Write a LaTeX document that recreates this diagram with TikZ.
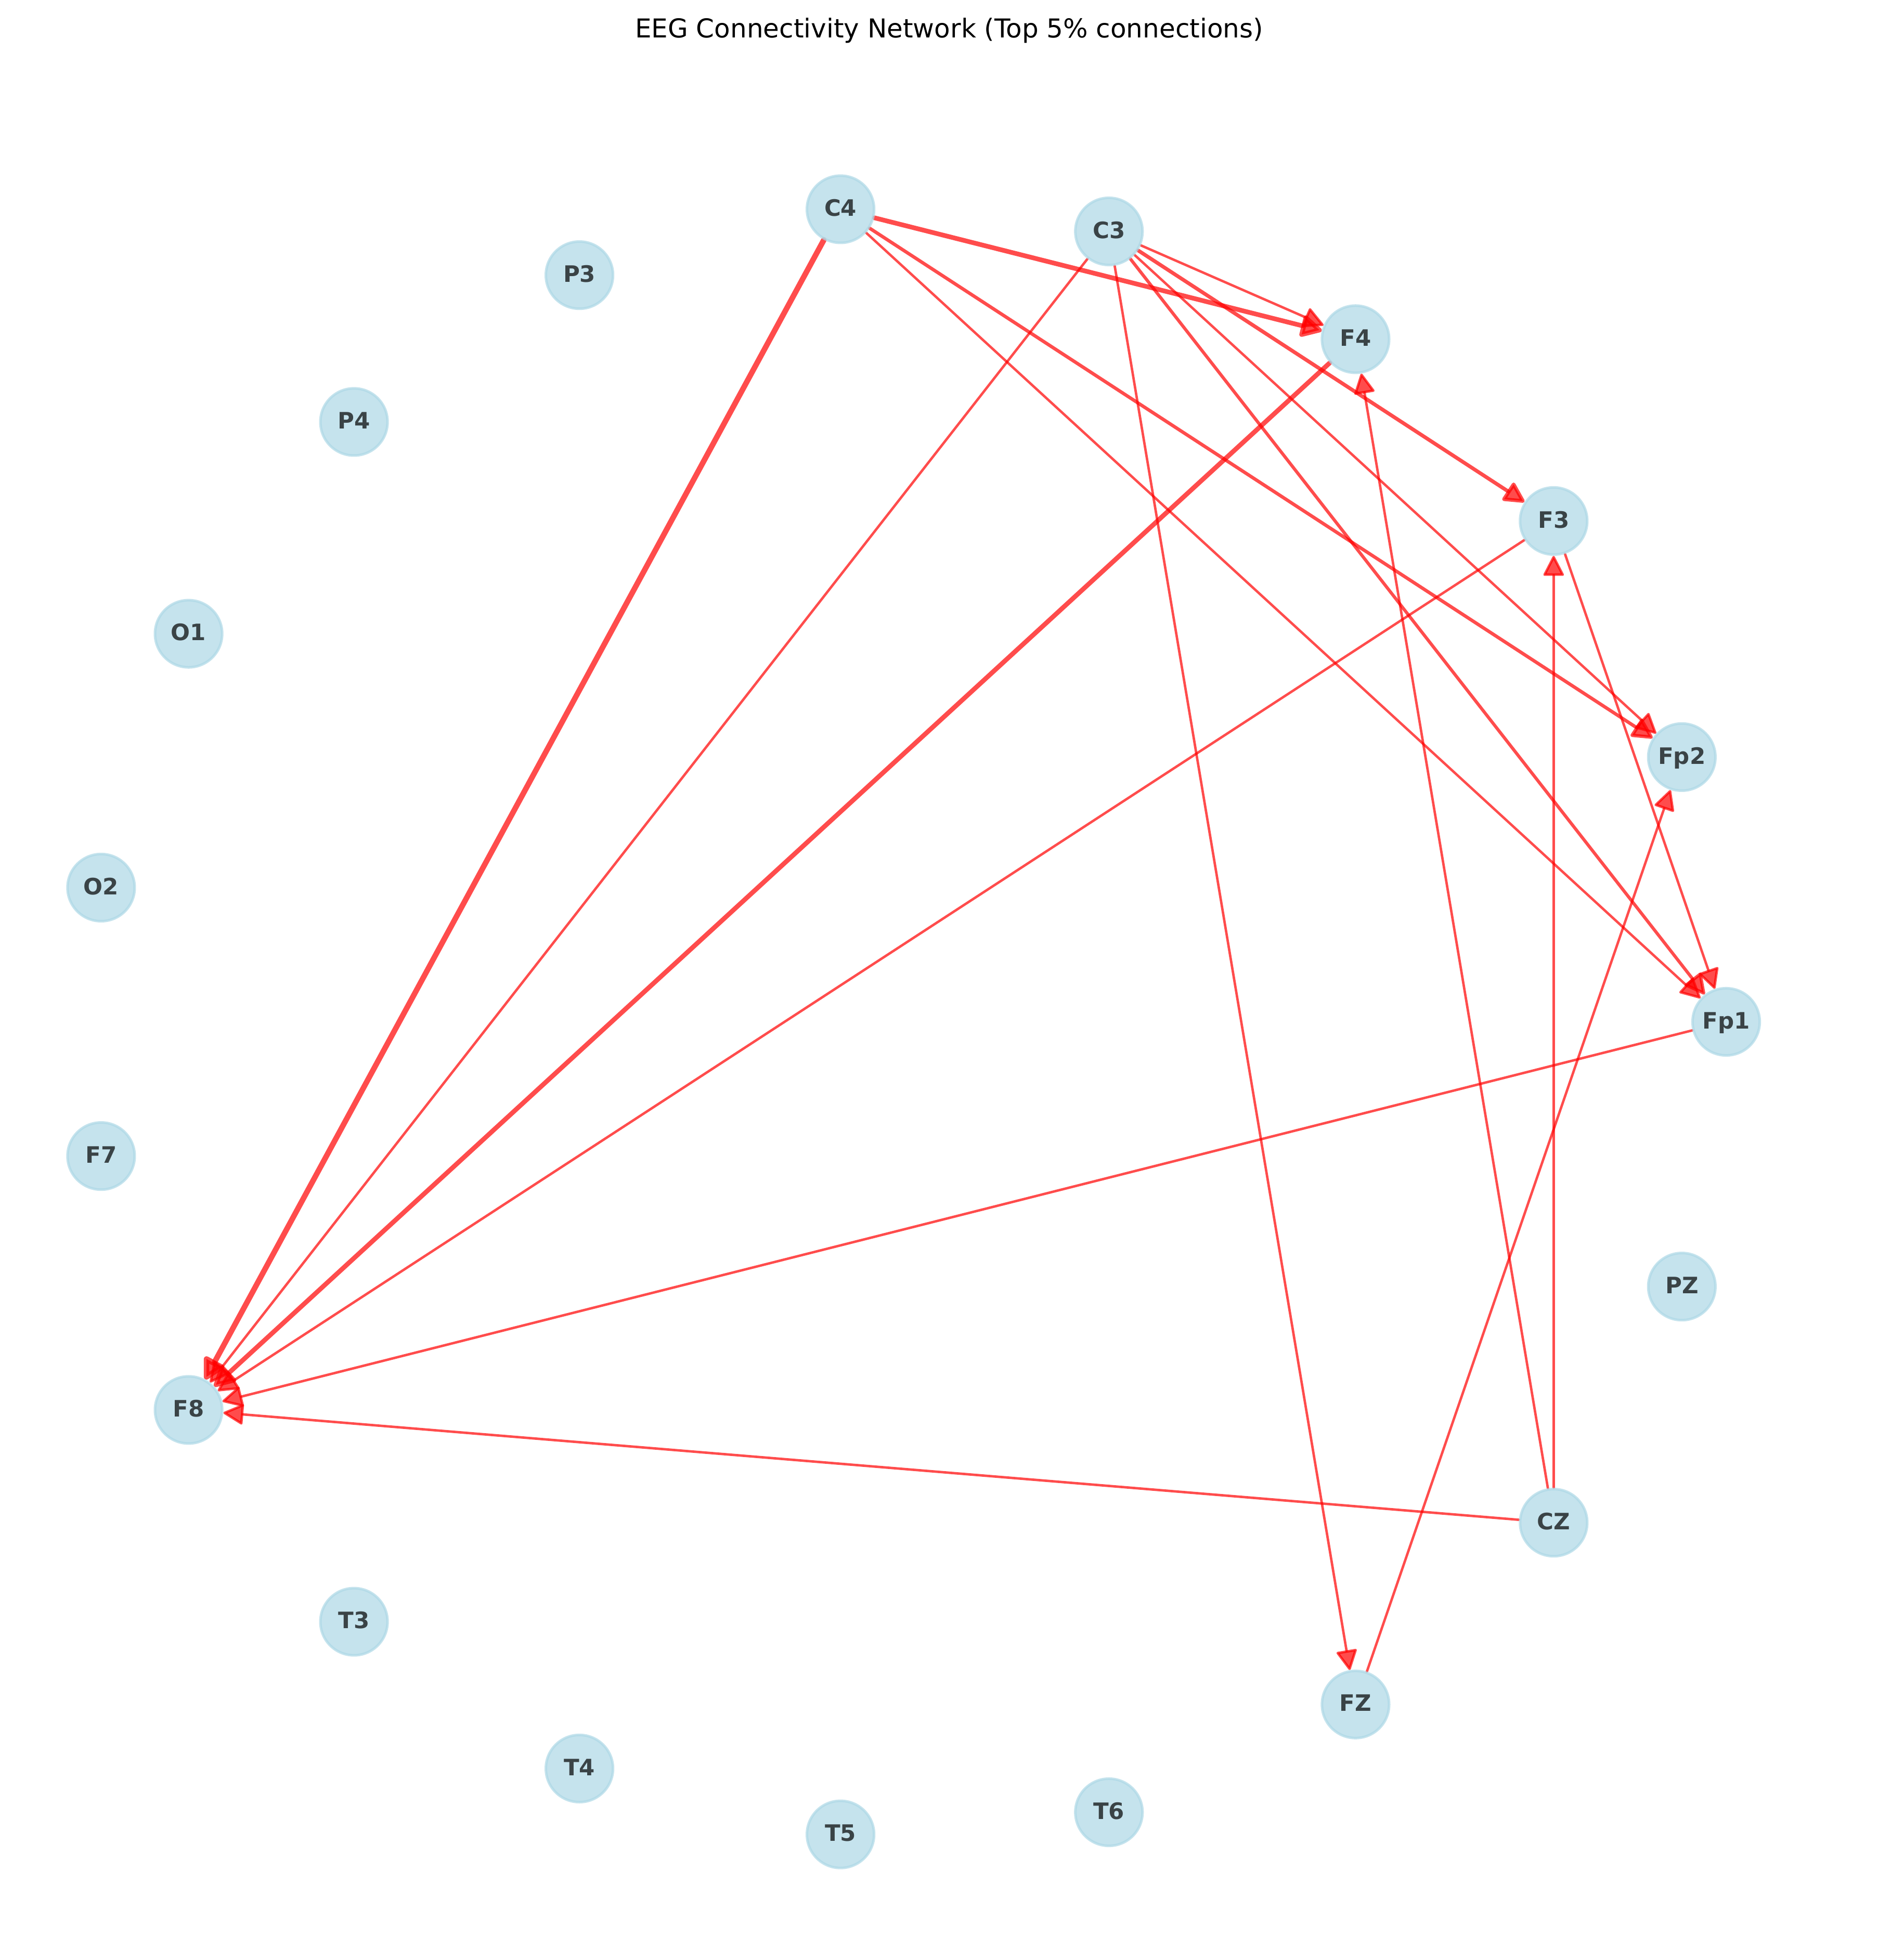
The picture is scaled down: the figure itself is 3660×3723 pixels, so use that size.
\documentclass[tikz,border=0pt]{standalone}
\usepackage{fontspec}
\setmainfont{DejaVu Sans}
\usetikzlibrary{arrows.meta}
\definecolor{lb}{RGB}{173,216,230}
\pgfdeclarelayer{paper}
\pgfdeclarelayer{edges}
\pgfsetlayers{paper,edges,main}
\begin{document}
\begin{tikzpicture}[x=0.24pt,y=-0.24pt,
  eeg/.style={circle, minimum size=31pt, inner sep=0pt, fill=lb, draw=lb,
    line width=1.2pt, fill opacity=0.7, draw opacity=0.7, text opacity=0.7,
    text=black, font=\fontsize{10.44pt}{12pt}\selectfont\bfseries,
    text height=7.5pt, text depth=1.16pt},
  conn/.style={-{Triangle[length=8.8pt 1, width=8.8pt 1, round, fill=red]}, draw=red,
    opacity=0.7, line width=1.13pt, line cap=round},
  w1/.style={line width=2.55pt},
  w2/.style={line width=2.15pt},
  w3/.style={line width=1.7pt},
  w4/.style={line width=1.55pt},
  w5/.style={line width=1.45pt}]
\begin{pgfonlayer}{paper}
\fill[white] (0,0) rectangle (3660,3723);
\end{pgfonlayer}
\useasboundingbox (0,0) rectangle (3660,3723);

\node[anchor=base, font=\fontsize{12pt}{14.4pt}\selectfont] (title) at (1825,73)
  {EEG Connectivity Network (Top 5\% connections)};

\node[eeg] (Fp1) at (3319.0,1965.0) {Fp1};
\node[eeg] (Fp2) at (3233.8,1455.9) {Fp2};
\node[eeg] (F3)  at (2987.3,1001.9) {F3};
\node[eeg] (F4)  at (2606.4,652.3) {F4};
\node[eeg] (C3)  at (2132.2,445.0) {C3};
\node[eeg] (C4)  at (1616.1,402.4) {C4};
\node[eeg] (P3)  at (1114.1,529.1) {P3};
\node[eeg] (P4)  at (680.6,811.4) {P4};
\node[eeg] (O1)  at (362.6,1218.7) {O1};
\node[eeg] (O2)  at (194.4,1706.9) {O2};
\node[eeg] (F7)  at (194.4,2223.1) {F7};
\node[eeg] (F8)  at (362.6,2711.3) {F8};
\node[eeg] (T3)  at (680.6,3118.6) {T3};
\node[eeg] (T4)  at (1114.1,3400.9) {T4};
\node[eeg] (T5)  at (1616.1,3527.6) {T5};
\node[eeg] (T6)  at (2132.2,3485.0) {T6};
\node[eeg] (FZ)  at (2606.4,3277.7) {FZ};
\node[eeg] (CZ)  at (2987.3,2928.1) {CZ};
\node[eeg] (PZ)  at (3233.8,2474.1) {PZ};

\begin{pgfonlayer}{edges}
\draw[conn,w1] (C4) -- (F8);
\draw[conn,w2] (C4) -- (F4);
\draw[conn,w4] (C4) -- (Fp2);
\draw[conn] (C4) -- (Fp1);
\draw[conn] (C3) -- (F8);
\draw[conn] (C3) -- (F4);
\draw[conn,w3] (C3) -- (F3);
\draw[conn] (C3) -- (Fp2);
\draw[conn,w5] (C3) -- (Fp1);
\draw[conn] (C3) -- (FZ);
\draw[conn,w2] (F4) -- (F8);
\draw[conn] (F3) -- (F8);
\draw[conn] (F3) -- (Fp1);
\draw[conn] (Fp1) -- (F8);
\draw[conn] (CZ) -- (F8);
\draw[conn] (CZ) -- (F4);
\draw[conn] (CZ) -- (F3);
\draw[conn] (FZ) -- (Fp2);
\end{pgfonlayer}
\end{tikzpicture}
\end{document}
